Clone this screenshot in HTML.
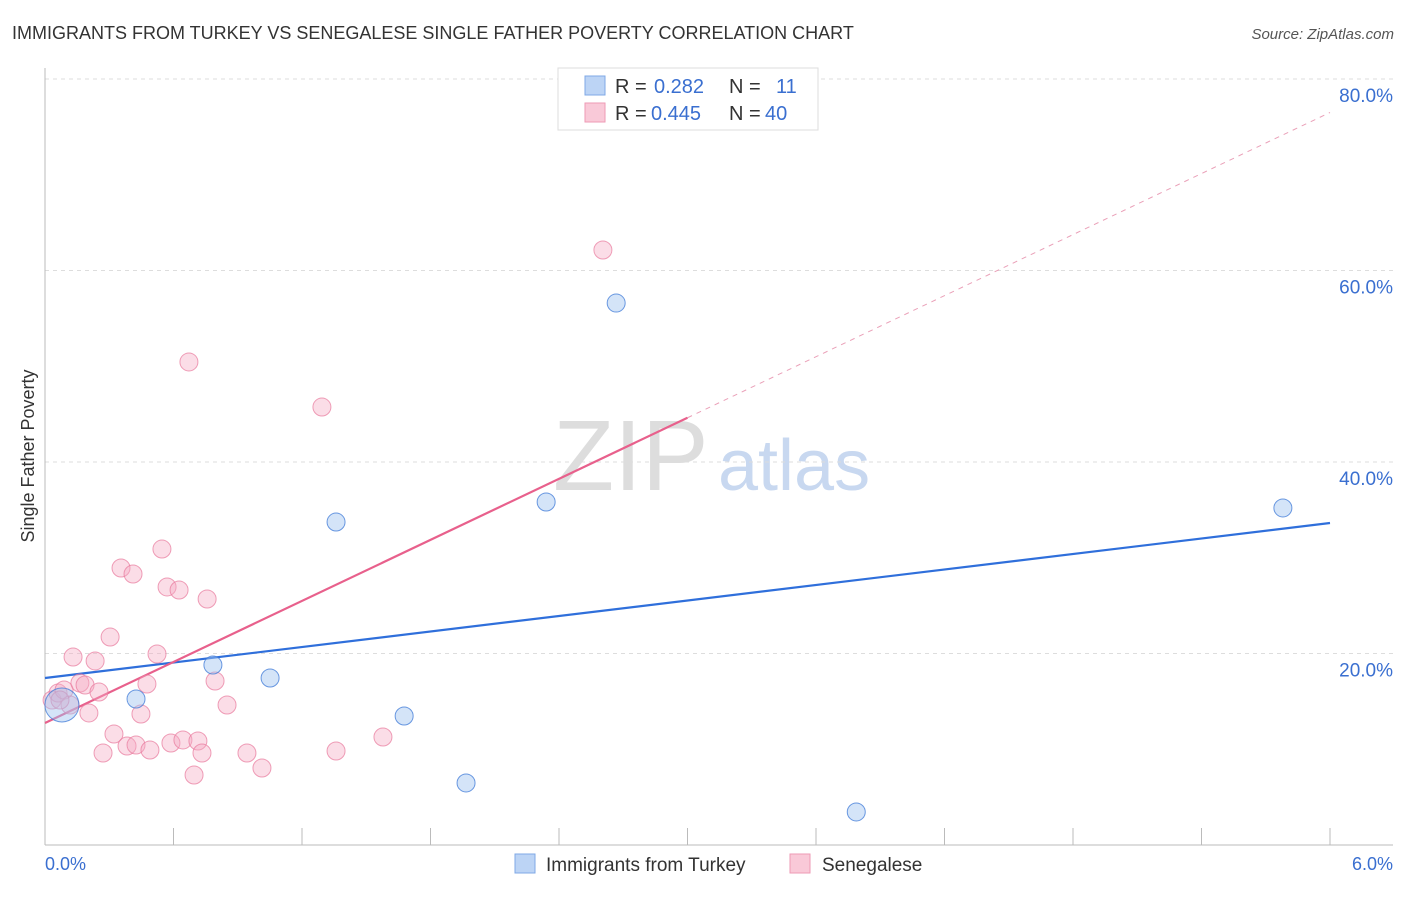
<!DOCTYPE html>
<html><head><meta charset="utf-8"><style>
body{margin:0;background:#fff;font-family:"Liberation Sans",sans-serif;overflow:hidden;}
svg text{font-family:"Liberation Sans",sans-serif;}
</style></head><body>
<svg id="chart" width="1406" height="892">
<text x="12" y="39" font-size="18" fill="#333">IMMIGRANTS FROM TURKEY VS SENEGALESE SINGLE FATHER POVERTY CORRELATION CHART</text>
<text x="1394" y="39" font-size="15" fill="#555" font-style="italic" text-anchor="end">Source: ZipAtlas.com</text>
<g>
<text x="553" y="490" font-size="100" fill="#ddd" font-family="Liberation Serif,serif">ZIP</text>
<text x="718" y="490" font-size="72" fill="#c8d8f0">atlas</text>
</g>
<g id="grid"></g><g id="axes"></g><g id="lines"></g><g id="points"></g>
<text transform="translate(34,456) rotate(-90)" font-size="18" fill="#333" text-anchor="middle">Single Father Poverty</text>
<text x="45" y="870" font-size="18" fill="#3a6fd0">0.0%</text>
<text x="1393" y="870" font-size="18" fill="#3a6fd0" text-anchor="end">6.0%</text>
<g>
<rect x="558" y="68" width="260" height="62" fill="#fff" stroke="#ddd"/>
<rect x="585" y="76" width="20" height="19" fill="#bcd4f5" stroke="#7fa8e6"/>
<rect x="585" y="103" width="20" height="19" fill="#f9c9d8" stroke="#ee9ab5"/>
<text x="615" y="93" font-size="20" fill="#333">R = </text><text x="654" y="93" font-size="20" fill="#3a6fd0">0.282</text>
<text x="729" y="93" font-size="20" fill="#333">N = </text><text x="776" y="93" font-size="20" fill="#3a6fd0">11</text>
<text x="615" y="120" font-size="20" fill="#333">R = </text><text x="651" y="120" font-size="20" fill="#3a6fd0">0.445</text>
<text x="729" y="120" font-size="20" fill="#333">N = </text><text x="765" y="120" font-size="20" fill="#3a6fd0">40</text>
</g>
<g>
<rect x="515" y="854" width="20" height="19" fill="#bcd4f5" stroke="#7fa8e6"/>
<text x="546" y="871" font-size="19" fill="#333">Immigrants from Turkey</text>
<rect x="790" y="854" width="20" height="19" fill="#f9c9d8" stroke="#ee9ab5"/>
<text x="822" y="871" font-size="19" fill="#333">Senegalese</text>
</g>
</svg>
<script>
const yTicks=[20,40,60,80];
const yTickLabels=["20.0%","40.0%","60.0%","80.0%"];
const turkeyX=[0.079,0.425,0.784,1.051,1.359,1.677,1.966,2.340,2.667,3.788,5.780];
const turkeyY=[14.62,15.25,18.80,17.44,33.73,13.47,6.48,35.82,56.60,3.45,35.20];
const senX=[0.033,0.061,0.089,0.117,0.131,0.163,0.187,0.205,0.234,0.252,0.271,0.304,0.322,0.355,0.383,0.411,0.425,0.448,0.476,0.490,0.523,0.546,0.570,0.588,0.626,0.644,0.672,0.696,0.714,0.733,0.757,0.794,0.850,0.943,1.013,1.293,1.359,1.578,2.605,0.07];
const senY=[15.14,15.87,16.19,14.62,19.63,16.92,16.71,13.79,19.22,15.98,9.61,21.72,11.59,28.93,10.34,28.30,10.44,13.68,16.81,9.92,19.95,30.91,26.95,10.65,26.63,10.97,50.45,7.31,10.86,9.61,25.69,17.13,14.62,9.61,8.04,45.74,9.82,11.28,62.14,15.14];
const turkeyTrend=[17.44,33.63];
const senTrend=[12.74,76.5];
const sx=v=>45+v/6*1285;
const sy=v=>845-v*191.5/20;
const NS="http://www.w3.org/2000/svg";
function mk(tag,attrs,parent){const e=document.createElementNS(NS,tag);for(const k in attrs)e.setAttribute(k,attrs[k]);document.getElementById(parent).appendChild(e);return e;}
yTicks.forEach((t,i)=>{
 const g=mk('line',{x1:45,x2:1393,y1:sy(t),y2:sy(t),stroke:'#ddd','stroke-dasharray':'4,4'},'grid');
 
 
 const l=mk('text',{x:1393,y:sy(t)+23,'font-size':19,fill:'#3a6fd0','text-anchor':'end'},'grid');
 l.textContent=yTickLabels[i];
 
 
});
const ax=mk('line',{x1:45,x2:45,y1:68,y2:845,stroke:'#bbb'},'axes');


const bx=mk('line',{x1:45,x2:1393,y1:845,y2:845,stroke:'#bbb'},'axes');


for(let i=1;i<=10;i++){
 const t=mk('line',{x1:sx(i*0.6),x2:sx(i*0.6),y1:828,y2:845,stroke:'#bbb'},'axes');
 
 
}
function trend(c,x0,x1,color,dash,name){
 const e=mk('line',{x1:sx(x0),y1:sy(c[0]+(c[1]-c[0])*x0/6),x2:sx(x1),y2:sy(c[0]+(c[1]-c[0])*x1/6),stroke:color,'stroke-width':dash?1:2.2,'stroke-dasharray':dash?'5,5':''},'lines');
 
 
}
trend(turkeyTrend,0,6,'#2f6fdb',false,'turkey-trend-line');
trend(senTrend,0,3.0,'#e8608c',false,'senegalese-trend-line');
trend(senTrend,3.0,6,'#eaa0b8',true,'senegalese-trend-extension');
senX.forEach((x,i)=>{
 const c=mk('circle',{cx:sx(x),cy:sy(senY[i]),r:9,fill:'rgba(246,170,195,0.4)',stroke:'rgba(232,120,155,0.7)','stroke-width':1},'points');
 
 
});
turkeyX.forEach((x,i)=>{
 const c=mk('circle',{cx:sx(x),cy:sy(turkeyY[i]),r:i===0?17:9,fill:'rgba(160,195,240,0.45)',stroke:'rgba(60,120,215,0.75)','stroke-width':1},'points');
 
 
});
</script>
</body></html>
